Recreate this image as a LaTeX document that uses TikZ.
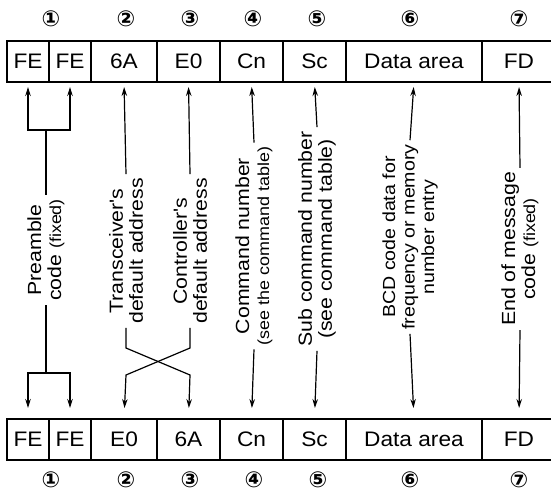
\documentclass[tikz,border=0pt]{standalone}
\usepackage{fontspec}
\setmainfont[FakeStretch=1.08]{Liberation Sans}
\newfontfamily\lblfont[FakeStretch=1.12]{Liberation Sans}
\newfontfamily\circfont{DejaVu Sans}
\usetikzlibrary{arrows.meta}
\begin{document}
\begin{tikzpicture}[x=1pt,y=-1pt,
  cell/.style={draw, line width=1.2pt, minimum height=41pt, inner sep=0pt, outer sep=0pt, anchor=north west, font=\fontsize{21}{23}\selectfont},
  lastcell/.style={cell, draw=none},
  num/.style={font=\circfont\bfseries\fontsize{22}{24}\selectfont, inner sep=0pt},
  lbl/.style={rotate=90, align=center, font=\lblfont\fontsize{19}{20}\selectfont, inner sep=4pt},
  conn/.style={line width=1.2pt},
  arrup/.style={conn, -{Stealth[length=9pt,width=5.5pt]}, shorten >=5pt},
  arrdn/.style={conn, -{Stealth[length=9pt,width=5.5pt]}, shorten >=11pt},
]
\useasboundingbox (0,0) rectangle (551,493);

% top row
\node[cell, minimum width=42pt] (t1a) at (7,41) {FE};
\node[cell, minimum width=42pt] (t1b) at (49,41) {FE};
\node[cell, minimum width=66pt] (t2) at (91,41) {6A};
\node[cell, minimum width=63pt] (t3) at (157,41) {E0};
\node[cell, minimum width=63pt] (t4) at (220,41) {Cn};
\node[cell, minimum width=63pt] (t5) at (283,41) {Sc};
\node[cell, minimum width=136pt] (t6) at (346,41) {Data area};
\node[lastcell, minimum width=74pt] (t7) at (482,41) {FD};
\draw[conn] (t7.north west) -- ++(69,0);
\draw[conn] (t7.south west) -- ++(69,0);

% bottom row
\node[cell, minimum width=42pt] (b1a) at (7,419) {FE};
\node[cell, minimum width=42pt] (b1b) at (49,419) {FE};
\node[cell, minimum width=66pt] (b2) at (91,419) {E0};
\node[cell, minimum width=63pt] (b3) at (157,419) {6A};
\node[cell, minimum width=63pt] (b4) at (220,419) {Cn};
\node[cell, minimum width=63pt] (b5) at (283,419) {Sc};
\node[cell, minimum width=136pt] (b6) at (346,419) {Data area};
\node[lastcell, minimum width=74pt] (b7) at (482,419) {FD};
\draw[conn] (b7.north west) -- ++(69,0);
\draw[conn] (b7.south west) -- ++(69,0);

% circled numbers
\node[num] (n1) at (51,19) {①};
\node[num] (n2) at (126,19) {②};
\node[num] (n3) at (190,19) {③};
\node[num] (n4) at (253,19) {④};
\node[num] (n5) at (317,19) {⑤};
\node[num] (n6) at (410,19) {⑥};
\node[num] (n7) at (519,19) {⑦};
\node[num] (m1) at (51,480) {①};
\node[num] (m2) at (126,480) {②};
\node[num] (m3) at (190,480) {③};
\node[num] (m4) at (254,480) {④};
\node[num] (m5) at (318,480) {⑤};
\node[num] (m6) at (410,480) {⑥};
\node[num] (m7) at (519,480) {⑦};

% labels
\node[lbl] (lP) at (46,250) {Preamble\\code {\fontsize{16}{17}\selectfont(fixed)}};
\node[lbl] (lT) at (126,251) {Transceiver's\\default address};
\node[lbl] (lC) at (190,251) {Controller's\\default address};
\node[lbl] (lN) at (254,246) {Command number\\{\fontsize{16}{17}\selectfont(see the command table)}};
\node[lbl] (lS) at (317,239) {Sub command number\\(see command table)};
\node[lbl, font=\lblfont\fontsize{17.5}{19.5}\selectfont] (lB) at (410,237) {BCD code data for\\frequency or memory\\number entry};
\node[lbl] (lE) at (520,249) {End of message\\code {\fontsize{16}{17}\selectfont(fixed)}};

% junctions
\coordinate (pt) at (46,130);
\coordinate (pb) at (46,373);
\coordinate (xa1) at (126,348);
\coordinate (xa2) at (190,375);
\coordinate (xb1) at (190,348);
\coordinate (xb2) at (126,375);

% preamble
\draw[conn] (lP.east) -- (pt);
\draw[arrup] (pt) -| (t1a.south);
\draw[arrup] (pt) -| (t1b.south);
\draw[conn] (lP.west) -- (pb);
\draw[arrdn] (pb) -| (b1a.north);
\draw[arrdn] (pb) -| (b1b.north);

% addresses
\draw[arrup] (lT.east) -- (t2.south);
\draw[arrup] (lC.east) -- (t3.south);
\draw[arrdn] (lT.west) -- (xa1) -- (xa2) -- (b3.north);
\draw[arrdn] (lC.west) -- (xb1) -- (xb2) -- (b2.north);

% others
\draw[arrup] (lN.east) -- (t4.south);
\draw[arrdn] (lN.west) -- (b4.north);
\draw[arrup] (lS.east) -- (t5.south);
\draw[arrdn] (lS.west) -- (b5.north);
\draw[arrup] (lB.east) -- (t6.south);
\draw[arrdn] (lB.west) -- (b6.north);
\draw[arrup] (lE.east) -- (t7.south);
\draw[arrdn] (lE.west) -- (b7.north);
\end{tikzpicture}
\end{document}
